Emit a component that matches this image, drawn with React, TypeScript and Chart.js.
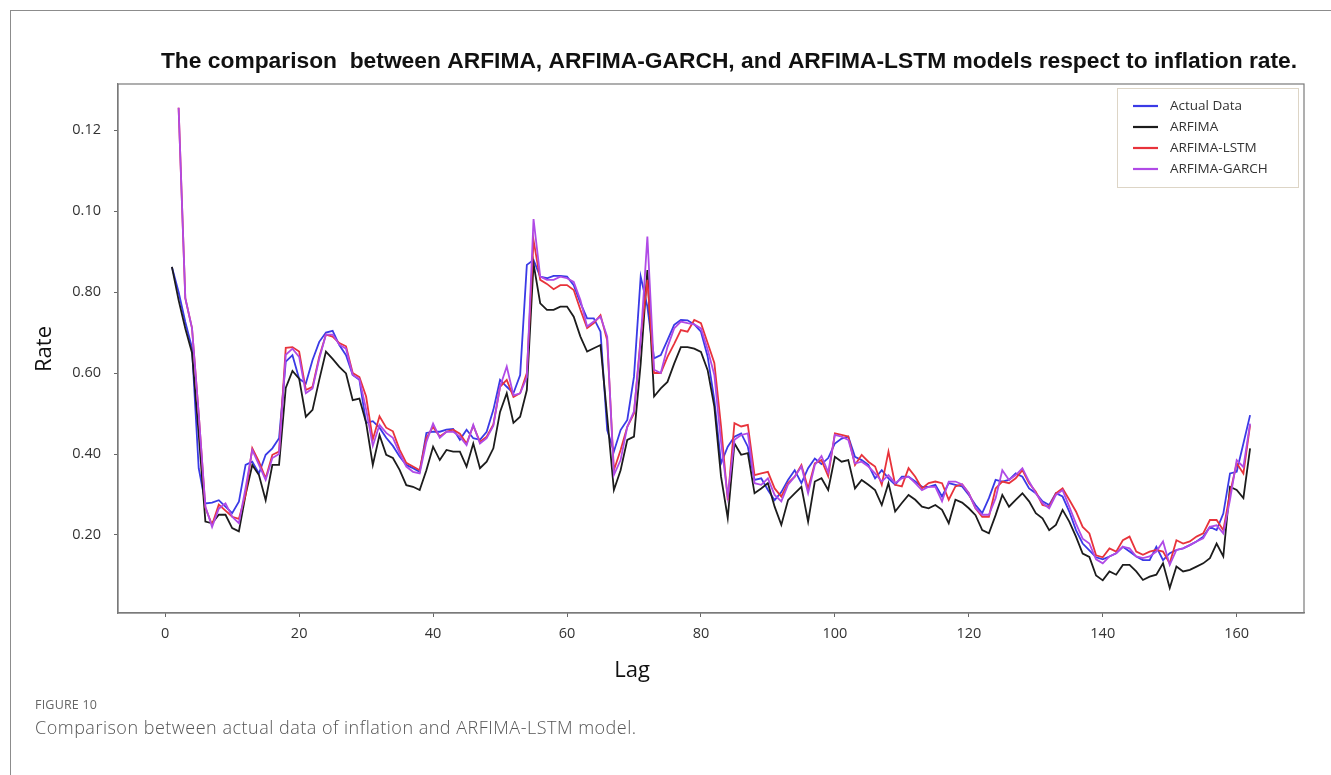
import React, { useEffect, useRef } from "react";
import { Chart, registerables } from "chart.js";

Chart.register(...registerables);

const TITLE = "The comparison  between ARFIMA, ARFIMA-GARCH, and ARFIMA-LSTM models respect to inflation rate.";
const X_TITLE = "Lag";
const Y_TITLE = "Rate";
const FIG_LABEL = "FIGURE 10";
const FIG_CAPTION = "Comparison between actual data of inflation and ARFIMA-LSTM model.";

const lags: number[] = Array.from({ length: 162 }, (_, i) => i + 1);

const actualData: number[] = [
  0.0862, 0.0800, 0.0726, 0.0662, 0.0365, 0.0278, 0.0280, 0.0286, 0.0270, 0.0254,
  0.0282, 0.0373, 0.0381, 0.0352, 0.0398, 0.0414, 0.0439, 0.0628, 0.0644, 0.0586,
  0.0574, 0.0632, 0.0677, 0.0700, 0.0704, 0.0669, 0.0644, 0.0595, 0.0583, 0.0477,
  0.0481, 0.0465, 0.0440, 0.0420, 0.0394, 0.0373, 0.0365, 0.0356, 0.0452, 0.0455,
  0.0455, 0.0460, 0.0462, 0.0435, 0.0460, 0.0439, 0.0435, 0.0455, 0.0509, 0.0583,
  0.0566, 0.0550, 0.0595, 0.0867, 0.0879, 0.0838, 0.0834, 0.0840, 0.0840, 0.0838,
  0.0817, 0.0773, 0.0735, 0.0735, 0.0702, 0.0459, 0.0406, 0.0459, 0.0484, 0.0591,
  0.0838, 0.0764, 0.0636, 0.0644, 0.0681, 0.0719, 0.0731, 0.0730, 0.0720, 0.0702,
  0.0641, 0.0533, 0.0377, 0.0418, 0.0443, 0.0451, 0.0418, 0.0336, 0.0340, 0.0311,
  0.0286, 0.0306, 0.0336, 0.0360, 0.0328, 0.0365, 0.0389, 0.0375, 0.0390, 0.0426,
  0.0438, 0.0443, 0.0393, 0.0385, 0.0373, 0.0340, 0.0360, 0.0340, 0.0324, 0.0344,
  0.0344, 0.0332, 0.0319, 0.0319, 0.0324, 0.0295, 0.0328, 0.0324, 0.0320, 0.0299,
  0.0274, 0.0254, 0.0291, 0.0336, 0.0332, 0.0336, 0.0352, 0.0344, 0.0315, 0.0303,
  0.0283, 0.0274, 0.0303, 0.0295, 0.0258, 0.0212, 0.0179, 0.0162, 0.0145, 0.0140,
  0.0147, 0.0155, 0.0171, 0.0159, 0.0147, 0.0138, 0.0138, 0.0171, 0.0138, 0.0155,
  0.0163, 0.0167, 0.0175, 0.0184, 0.0196, 0.0220, 0.0212, 0.0253, 0.0352, 0.0356,
  0.0426, 0.0496,
];

const arfimaData: number[] = [
  0.0862, 0.0780, 0.0710, 0.0650, 0.0450, 0.0233, 0.0229, 0.0250, 0.0250, 0.0217,
  0.0209, 0.0299, 0.0373, 0.0348, 0.0286, 0.0373, 0.0373, 0.0563, 0.0605, 0.0586,
  0.0492, 0.0509, 0.0583, 0.0653, 0.0635, 0.0615, 0.0599, 0.0533, 0.0537, 0.0477,
  0.0373, 0.0447, 0.0398, 0.0390, 0.0361, 0.0323, 0.0319, 0.0311, 0.0360, 0.0418,
  0.0385, 0.0410, 0.0406, 0.0406, 0.0369, 0.0426, 0.0365, 0.0381, 0.0414, 0.0504,
  0.0550, 0.0477, 0.0492, 0.0558, 0.0870, 0.0772, 0.0756, 0.0756, 0.0764, 0.0764,
  0.0739, 0.0690, 0.0653, 0.0661, 0.0669, 0.0492, 0.0311, 0.0360, 0.0435, 0.0443,
  0.0623, 0.0854, 0.0542, 0.0562, 0.0578, 0.0623, 0.0664, 0.0664, 0.0660, 0.0652,
  0.0607, 0.0517, 0.0344, 0.0242, 0.0426, 0.0398, 0.0402, 0.0303, 0.0315, 0.0328,
  0.0270, 0.0225, 0.0286, 0.0303, 0.0319, 0.0233, 0.0332, 0.0340, 0.0311, 0.0393,
  0.0381, 0.0385, 0.0315, 0.0336, 0.0324, 0.0311, 0.0274, 0.0328, 0.0258, 0.0279,
  0.0299, 0.0287, 0.0270, 0.0266, 0.0274, 0.0262, 0.0229, 0.0287, 0.0280, 0.0266,
  0.0249, 0.0212, 0.0204, 0.0249, 0.0299, 0.0270, 0.0287, 0.0303, 0.0283, 0.0254,
  0.0241, 0.0212, 0.0225, 0.0262, 0.0233, 0.0196, 0.0154, 0.0146, 0.0100, 0.0088,
  0.0110, 0.0102, 0.0126, 0.0126, 0.0110, 0.0089, 0.0097, 0.0102, 0.0130, 0.0069,
  0.0122, 0.0110, 0.0114, 0.0122, 0.0130, 0.0143, 0.0179, 0.0147, 0.0319, 0.0311,
  0.0291, 0.0414,
];

const arfimaLstmData: (number | null)[] = [
  null, 0.1255, 0.0785, 0.0711, 0.0500, 0.0267, 0.0225, 0.0275, 0.0260, 0.0245,
  0.0240, 0.0299, 0.0414, 0.0381, 0.0340, 0.0398, 0.0406, 0.0662, 0.0664, 0.0653,
  0.0558, 0.0566, 0.0640, 0.0695, 0.0690, 0.0674, 0.0666, 0.0600, 0.0590, 0.0542,
  0.0436, 0.0493, 0.0465, 0.0456, 0.0411, 0.0378, 0.0369, 0.0360, 0.0440, 0.0467,
  0.0443, 0.0455, 0.0460, 0.0450, 0.0426, 0.0470, 0.0430, 0.0443, 0.0473, 0.0566,
  0.0583, 0.0541, 0.0550, 0.0600, 0.0928, 0.0830, 0.0820, 0.0807, 0.0817, 0.0817,
  0.0805, 0.0756, 0.0711, 0.0723, 0.0743, 0.0681, 0.0360, 0.0410, 0.0467, 0.0500,
  0.0688, 0.0830, 0.0600, 0.0600, 0.0640, 0.0672, 0.0706, 0.0702, 0.0731, 0.0723,
  0.0674, 0.0625, 0.0468, 0.0286, 0.0476, 0.0468, 0.0472, 0.0348, 0.0352, 0.0356,
  0.0315, 0.0295, 0.0328, 0.0344, 0.0373, 0.0315, 0.0377, 0.0385, 0.0345, 0.0451,
  0.0447, 0.0443, 0.0373, 0.0398, 0.0381, 0.0369, 0.0324, 0.0406, 0.0324, 0.0320,
  0.0365, 0.0344, 0.0315, 0.0328, 0.0332, 0.0328, 0.0287, 0.0320, 0.0325, 0.0303,
  0.0266, 0.0245, 0.0245, 0.0315, 0.0332, 0.0328, 0.0340, 0.0360, 0.0328, 0.0307,
  0.0274, 0.0270, 0.0303, 0.0315, 0.0287, 0.0258, 0.0220, 0.0204, 0.0150, 0.0145,
  0.0167, 0.0159, 0.0187, 0.0196, 0.0159, 0.0151, 0.0159, 0.0163, 0.0159, 0.0130,
  0.0187, 0.0179, 0.0184, 0.0196, 0.0204, 0.0237, 0.0237, 0.0212, 0.0303, 0.0377,
  0.0352, 0.0471,
];

const arfimaGarchData: (number | null)[] = [
  null, 0.1255, 0.0785, 0.0711, 0.0500, 0.0270, 0.0220, 0.0265, 0.0278, 0.0245,
  0.0229, 0.0316, 0.0410, 0.0373, 0.0336, 0.0390, 0.0400, 0.0645, 0.0660, 0.0640,
  0.0550, 0.0562, 0.0635, 0.0695, 0.0695, 0.0670, 0.0660, 0.0595, 0.0585, 0.0510,
  0.0420, 0.0472, 0.0452, 0.0440, 0.0402, 0.0369, 0.0356, 0.0352, 0.0430, 0.0475,
  0.0440, 0.0455, 0.0455, 0.0443, 0.0422, 0.0472, 0.0426, 0.0439, 0.0470, 0.0566,
  0.0616, 0.0545, 0.0550, 0.0590, 0.0980, 0.0838, 0.0830, 0.0830, 0.0838, 0.0834,
  0.0825, 0.0780, 0.0715, 0.0727, 0.0739, 0.0690, 0.0348, 0.0385, 0.0467, 0.0505,
  0.0680, 0.0937, 0.0608, 0.0600, 0.0664, 0.0710, 0.0727, 0.0723, 0.0720, 0.0710,
  0.0658, 0.0595, 0.0430, 0.0295, 0.0435, 0.0447, 0.0451, 0.0328, 0.0324, 0.0340,
  0.0299, 0.0283, 0.0324, 0.0344, 0.0369, 0.0303, 0.0373, 0.0395, 0.0355, 0.0447,
  0.0443, 0.0435, 0.0377, 0.0381, 0.0369, 0.0352, 0.0332, 0.0348, 0.0328, 0.0340,
  0.0344, 0.0328, 0.0311, 0.0319, 0.0319, 0.0283, 0.0332, 0.0332, 0.0325, 0.0303,
  0.0266, 0.0250, 0.0250, 0.0291, 0.0360, 0.0336, 0.0348, 0.0365, 0.0332, 0.0303,
  0.0279, 0.0266, 0.0299, 0.0311, 0.0270, 0.0228, 0.0191, 0.0179, 0.0140, 0.0130,
  0.0147, 0.0155, 0.0171, 0.0167, 0.0147, 0.0143, 0.0147, 0.0159, 0.0184, 0.0126,
  0.0163, 0.0167, 0.0175, 0.0184, 0.0192, 0.0220, 0.0224, 0.0204, 0.0287, 0.0385,
  0.0368, 0.0475,
];

const seriesNames = ["Actual Data", "ARFIMA", "ARFIMA-LSTM", "ARFIMA-GARCH"];
const seriesColors = ["#3a3ae6", "#1c1c1c", "#e8333b", "#b04ae6"];

const xTickValues = [0, 20, 40, 60, 80, 100, 120, 140, 160];
const yTickValues = [0.02, 0.04, 0.06, 0.08, 0.1, 0.12];
const yTickLabels = ["0.20", "0.40", "0.60", "0.80", "0.10", "0.12"];

const FONT = "'Open Sans', 'Noto Sans', sans-serif";

const toPoints = (vals: (number | null)[]) =>
  lags.map((lag, i) => ({ x: lag, y: vals[i] }));

const framePlugin = {
  id: "plotFrame",
  afterDraw(chart: any) {
    const { ctx, chartArea: a } = chart;
    ctx.save();
    ctx.strokeStyle = "#7a7a7a";
    ctx.lineWidth = 1.2;
    ctx.strokeRect(a.left, a.top, a.right - a.left, a.bottom - a.top);
    ctx.restore();
  },
};

const boxLegendPlugin = {
  id: "boxLegend",
  afterDraw(chart: any) {
    const { ctx, chartArea: a } = chart;
    const w = 181;
    const h = 99;
    const left = a.right - 187;
    const top = a.top + 4;
    ctx.save();
    ctx.fillStyle = "rgba(255,255,255,0.9)";
    ctx.fillRect(left, top, w, h);
    ctx.strokeStyle = "#ddd5c6";
    ctx.lineWidth = 1;
    ctx.strokeRect(left + 0.5, top + 0.5, w, h);
    ctx.font = `13.5px ${FONT}`;
    ctx.textBaseline = "middle";
    ctx.textAlign = "left";
    chart.data.datasets.forEach((ds: any, i: number) => {
      const y = top + 18 + i * 21;
      ctx.strokeStyle = ds.borderColor;
      ctx.lineWidth = 2.2;
      ctx.beginPath();
      ctx.moveTo(left + 16, y);
      ctx.lineTo(left + 41, y);
      ctx.stroke();
      ctx.fillStyle = "#333";
      ctx.fillText(ds.label, left + 53, y);
    });
    ctx.restore();
  },
};

const textPlugin = {
  id: "figureTexts",
  afterDraw(chart: any) {
    const { ctx } = chart;
    ctx.save();
    ctx.fillStyle = "#111";
    ctx.textAlign = "center";
    ctx.textBaseline = "middle";
    ctx.font = "bold 22.8px 'Liberation Sans', sans-serif";
    ctx.fillText(TITLE, 729, 62);
    ctx.font = `22px ${FONT}`;
    ctx.fillText(X_TITLE, 632, 671);
    ctx.translate(45, 349);
    ctx.rotate(-Math.PI / 2);
    ctx.fillText(Y_TITLE, 0, 0);
    ctx.restore();
  },
};

export default function App() {
  const ref = useRef<HTMLCanvasElement | null>(null);

  useEffect(() => {
    const canvas = ref.current;
    if (!canvas) return;
    const allSeries = [actualData, arfimaData, arfimaLstmData, arfimaGarchData];
    const chart = new Chart(canvas, {
      type: "line",
      data: {
        datasets: allSeries.map((vals, i) => ({
          label: seriesNames[i],
          data: toPoints(vals),
          borderColor: seriesColors[i],
          backgroundColor: seriesColors[i],
          borderWidth: 1.8,
          pointRadius: 0,
          pointHoverRadius: 0,
          tension: 0,
          fill: false,
          order: 3 - i,
        })),
      },
      options: {
        animation: false,
        responsive: false,
        devicePixelRatio: 1,
        layout: { padding: { left: 0, right: 27, top: 84, bottom: 90 } },
        plugins: {
          legend: { display: false },
          tooltip: { enabled: false },
          title: { display: false },
        },
        scales: {
          x: {
            type: "linear",
            min: -7.05,
            max: 170.05,
            afterBuildTicks: (scale: any) => {
              scale.ticks = xTickValues.map((v) => ({ value: v }));
            },
            afterFit: (scale: any) => {
              scale.height = 72;
            },
            ticks: {
              color: "#333",
              font: { family: FONT, size: 14.5 },
              padding: 8,
              maxRotation: 0,
              autoSkip: false,
              callback: (v: any) => String(v),
            },
            grid: {
              display: true,
              drawOnChartArea: false,
              drawTicks: true,
              tickLength: 4,
              tickColor: "#666",
            },
            border: { display: true, color: "#7a7a7a", width: 1.2 },
          },
          y: {
            type: "linear",
            min: 0.00074,
            max: 0.13136,
            afterBuildTicks: (scale: any) => {
              scale.ticks = yTickValues.map((v) => ({ value: v }));
            },
            afterFit: (scale: any) => {
              scale.width = 118;
            },
            ticks: {
              color: "#333",
              font: { family: FONT, size: 14.5 },
              padding: 13,
              autoSkip: false,
              callback: (v: any) => {
                const idx = yTickValues.findIndex((t) => Math.abs(t - v) < 1e-9);
                return idx >= 0 ? yTickLabels[idx] : "";
              },
            },
            grid: {
              display: true,
              drawOnChartArea: false,
              drawTicks: true,
              tickLength: 4,
              tickColor: "#666",
            },
            border: { display: true, color: "#7a7a7a", width: 1.2 },
          },
        },
      },
      plugins: [framePlugin, boxLegendPlugin, textPlugin],
    });
    return () => chart.destroy();
  }, []);

  return (
    <div
      style={{
        position: "fixed",
        left: 0,
        top: 0,
        width: 1331,
        height: 775,
        background: "#fff",
        overflow: "hidden",
      }}
    >
      <div
        style={{
          position: "absolute",
          left: 10,
          top: 10,
          width: 1400,
          height: 900,
          border: "1px solid #8c8c8c",
        }}
      />
      <canvas
        ref={ref}
        width={1331}
        height={775}
        style={{ position: "absolute", left: 0, top: 0, width: 1331, height: 775 }}
      />
      <div
        style={{
          position: "absolute",
          left: 35,
          top: 697,
          fontFamily: FONT,
          fontSize: 12.5,
          color: "#666",
          letterSpacing: 0.2,
          lineHeight: "16px",
        }}
      >
        {FIG_LABEL}
      </div>
      <div
        style={{
          position: "absolute",
          left: 35,
          top: 715,
          fontFamily: FONT,
          fontSize: 18,
          fontWeight: 300,
          color: "#555",
          letterSpacing: 0.5,
          lineHeight: "24px",
          whiteSpace: "nowrap",
        }}
      >
        {FIG_CAPTION}
      </div>
    </div>
  );
}
